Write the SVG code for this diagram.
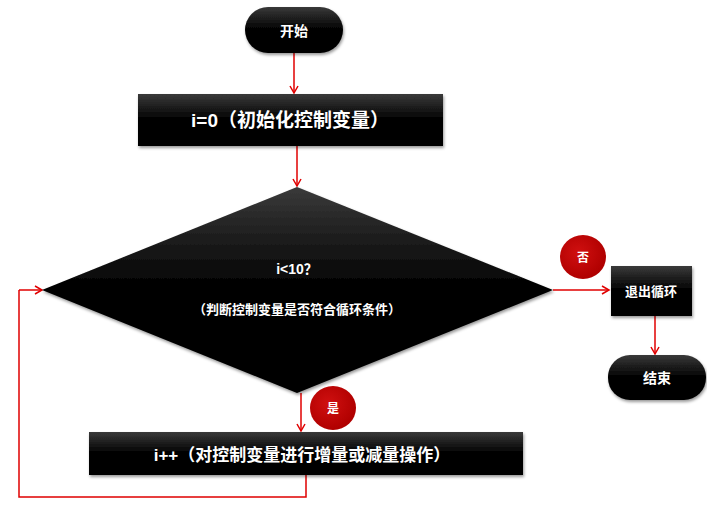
<svg xmlns="http://www.w3.org/2000/svg" width="707" height="523" viewBox="0 0 707 523">
<defs>
<linearGradient id="g" x1="0" y1="0" x2="0" y2="1"><stop offset="0" stop-color="#3a3a3a"/><stop offset="0.5" stop-color="#000"/><stop offset="1" stop-color="#000"/></linearGradient>
<radialGradient id="r" cx="0.4" cy="0.4" r="0.6"><stop offset="0" stop-color="#d01010"/><stop offset="1" stop-color="#b00000"/></radialGradient>
<marker id="a" markerWidth="10" markerHeight="10" refX="8" refY="5" orient="auto" markerUnits="userSpaceOnUse"><path d="M1,1 L8,5 L1,9" fill="none" stroke="#e00000" stroke-width="1.5"/></marker>
<filter id="s" x="-10%" y="-10%" width="125%" height="130%"><feDropShadow dx="1" dy="2" stdDeviation="1.5" flood-color="#000" flood-opacity="0.4"/></filter>
</defs>
<style>
.n{fill:url(#g);filter:url(#s)}
.t{fill:#fff;font-family:"Liberation Sans","Noto Sans CJK SC",sans-serif;font-weight:bold;text-anchor:middle}
.c{fill:none;stroke:#e00000;stroke-width:1.5;marker-end:url(#a)}
.l{fill:none;stroke:#e00000;stroke-width:1.5}
</style>
<g id="connectors">
<path class="c" d="M294,53 V93"/>
<path class="c" d="M297,146 V186"/>
<path class="c" d="M553,290 H609"/>
<path class="c" d="M655,316 V354"/>
<path class="c" d="M301,393 V431"/>
<path class="l" d="M306,475 V497 H19 V290"/>
<path class="c" d="M19,290 H42"/>
</g>
<g id="start"><rect class="n" x="245" y="7" width="98" height="46" rx="23"/><text class="t" x="294" y="36" font-size="14">开始</text></g>
<g id="init"><rect class="n" x="138" y="94" width="305" height="52"/><text class="t" x="290" y="127" font-size="19">i=0（初始化控制变量）</text></g>
<g id="cond"><polygon class="n" points="297,187 553,290 297,393 42,290"/><text class="t" x="297" y="274" font-size="14">i&lt;10？</text><text class="t" x="297" y="314" font-size="13">（判断控制变量是否符合循环条件）</text></g>
<g id="no"><ellipse cx="583" cy="257" rx="23" ry="22" fill="url(#r)"/><text class="t" x="583" y="262" font-size="12" font-weight="normal">否</text></g>
<g id="exit"><rect class="n" x="611" y="266" width="81" height="50"/><text class="t" x="651" y="296" font-size="13">退出循环</text></g>
<g id="end"><rect class="n" x="608" y="355" width="98" height="45" rx="22"/><text class="t" x="657" y="383" font-size="14">结束</text></g>
<g id="yes"><ellipse cx="333" cy="408" rx="23" ry="22" fill="url(#r)"/><text class="t" x="333" y="413" font-size="12" font-weight="normal">是</text></g>
<g id="inc"><rect class="n" x="89" y="432" width="434" height="43"/><text class="t" x="302" y="461" font-size="17">i++（对控制变量进行增量或减量操作）</text></g>
</svg>
